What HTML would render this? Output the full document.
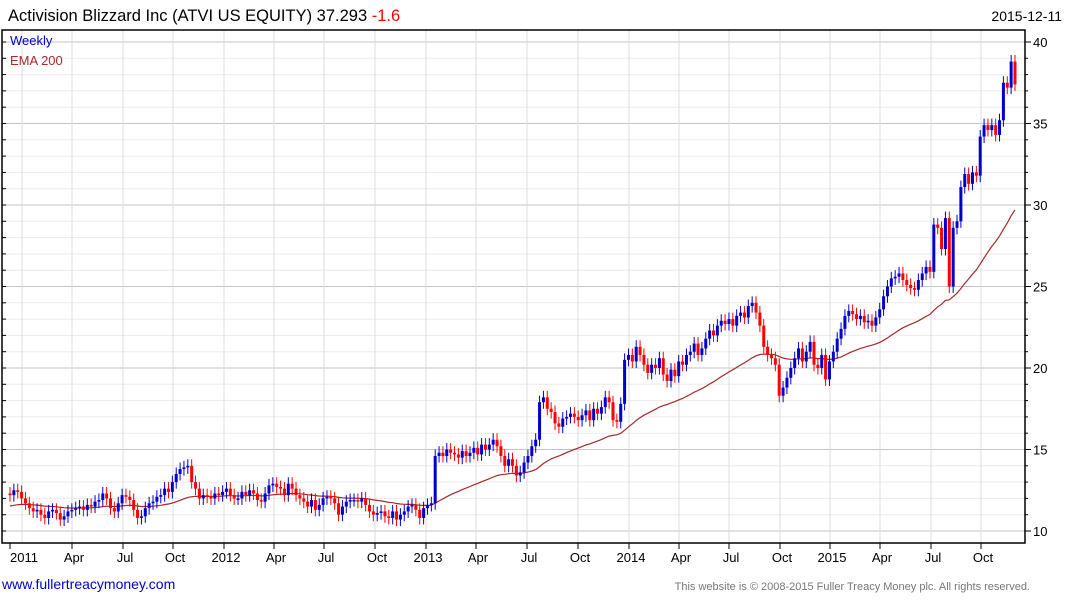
<!DOCTYPE html>
<html><head><meta charset="utf-8">
<style>
body{margin:0;background:#fff;width:1075px;height:600px;overflow:hidden;font-family:"Liberation Sans",sans-serif;}
svg{position:absolute;left:0;top:0}
</style></head>
<body>
<svg id="chart" width="1075" height="600">
<text x="8" y="21" font-size="16.5" fill="#000">Activision Blizzard Inc (ATVI US EQUITY) 37.293 <tspan fill="#ff0000">-1.6</tspan></text>
<text x="1062" y="21" font-size="14" text-anchor="end" fill="#000">2015-12-11</text>
<g id="grid"></g>
<g id="ema"></g>
<g id="candles"></g>
<g id="axes"></g>
<text x="10" y="45" font-size="13" fill="#0000cc">Weekly</text>
<text x="10" y="65" font-size="13" fill="#a52a2a">EMA 200</text>
<text x="2" y="589" font-size="14" fill="#0000cc">www.fullertreacymoney.com</text>
<text x="1030" y="590" font-size="11" text-anchor="end" fill="#777">This website is © 2008-2015 Fuller Treacy Money plc. All rights reserved.</text>
</svg>
<script>
const closes = [
12.2,12.5,12.4,12.0,11.7, 11.4,11.2,11.3,11.0, 10.8,11.2,11.3,11.1,10.7, 10.9,11.2,11.3,11.4, 11.5,11.3,11.6,11.5,11.8, 11.9,12.3,12.0,11.4,11.2, 11.7,12.2,12.1,11.9, 11.3,10.8,10.9,11.4,11.7, 11.8,12.1,12.2,12.6, 12.4,13.0,13.5,13.8,13.9, 14.0,13.0,12.6,12.0, 12.2,12.1,12.0,12.3,12.2,
12.4,12.6,12.2,12.0, 12.0,12.4,12.2,12.5, 12.3,11.9,11.8,12.3,12.8, 12.9,12.7,12.6,12.2, 12.9,12.6,12.2,12.0,11.8, 11.5,11.9,11.3,11.6, 12.0,12.1,12.0,11.7,11.0, 11.5,11.8,11.9,11.9, 11.8,12.0,11.6,11.2, 11.0,11.1,11.2,10.9,10.8, 11.2,10.7,11.0,11.2, 11.5,11.6,11.3,10.8,
11.4,11.6,11.7,14.6,14.8, 14.6,15.0,14.8,14.7, 14.5,14.9,14.6,14.8, 15.1,14.7,15.3,15.0,15.3, 15.6,15.2,14.6,14.0,14.4, 14.0,13.4,13.6,14.2, 14.6,15.2,15.6,17.9,18.2, 17.5,17.3,16.6,16.4,16.9, 17.0,17.2,17.0,16.8, 17.1,17.4,16.8,17.5,17.2, 17.6,18.2,17.9, 16.8,16.7,17.8,
20.5,20.8,20.4,21.3, 20.8,20.2,19.7,20.2, 20.0,20.6,19.6,19.2,19.9, 19.5,20.4,20.2,20.8, 21.0,21.5,20.8,21.2,21.8, 22.3,22.0,22.6,22.9, 22.7,23.0,22.6,23.2,23.4, 23.1,23.8,24.0,23.4, 22.6,21.3,20.8,20.6, 20.2,18.3,18.8,19.4,20.0, 20.6,21.2,20.4,21.0, 21.6,20.2,20.0,20.8,
19.3,20.4,21.0,21.8, 22.4,23.2,23.5,23.3, 23.0,23.2,22.8,22.9,22.6, 23.1,23.6,24.4,25.0, 25.5,25.6,25.8,25.4,25.1, 24.9,24.8,25.4,25.8, 26.2,25.9,28.8,28.6,27.3, 29.2,25.0,28.6,29.0, 31.1,31.9,31.3,32.0,31.8, 34.2,34.9,34.6,34.9,34.3, 35.2,37.5,37.2,38.8, 37.4
];
const yTicks = [10,15,20,25,30,35,40];
const xLabels = ["2011","Apr","Jul","Oct","2012","Apr","Jul","Oct","2013","Apr","Jul","Oct","2014","Apr","Jul","Oct","2015","Apr","Jul","Oct"];
const xLabelPos = [22,72,123,173,224,274,324,375,426,476,527,578,629,679,729,780,830,880,931,981];
const firstOpen = 12.3;

const NS="http://www.w3.org/2000/svg";
const L=2,R=1025,T=30,B=543;
function y(v){return 531-(v-10)*16.3;}
function x(i){return 10+i*(1015-10)/(closes.length-1);}
function mk(tag,attrs,parent){const e=document.createElementNS(NS,tag);for(const k in attrs)e.setAttribute(k,attrs[k]);parent.appendChild(e);return e;}
const grid=document.getElementById('grid'),axes=document.getElementById('axes'),cg=document.getElementById('candles'),eg=document.getElementById('ema');
for(let v=10;v<=40;v++){
  const ln=mk('line',{x1:L,x2:R,y1:y(v),y2:y(v),stroke:v%5===0?'#c4c4c4':'#ebebeb','stroke-width':1},grid);
  
  
  const tk=mk('line',{x1:R,x2:R+(v%5===0?6:3),y1:y(v),y2:y(v),stroke:'#000'},axes);
  
  
  const lt=mk('line',{x1:L,x2:L+4,y1:y(v),y2:y(v),stroke:'#000'},axes);
  
  
}
yTicks.forEach(v=>{
  const t=mk('text',{x:1033,y:y(v)+5,'font-size':13,fill:'#000'},axes);
  t.textContent=v;
  
  
});
xLabels.forEach((s,k)=>{
  const px=xLabelPos[k];
  const g=mk('line',{x1:px,x2:px,y1:T,y2:B,stroke:'#dcdcdc'},grid);
  
  
  const tk=mk('line',{x1:k===0?10:px,x2:k===0?10:px,y1:B,y2:B+6,stroke:'#000'},axes);
  
  
  const t=mk('text',{x:px+2,y:562,'font-size':13,'text-anchor':'middle',fill:'#000'},axes);
  t.textContent=s;
  
  
});
const frame=mk('path',{d:`M${L} ${T}H${R}V${B}H${L}Z`,fill:'none',stroke:'#000','stroke-width':1.5},axes);


// EMA
let ema=11.5,pts=[];const a=2/45;
closes.forEach((c,i)=>{ema=ema+a*(c-ema);pts.push(x(i).toFixed(1)+','+y(ema).toFixed(1));});
const pl=mk('polyline',{points:pts.join(' '),fill:'none',stroke:'#a52a2a','stroke-width':1.2},eg);


// candles
closes.forEach((c,i)=>{
  const o=i===0?firstOpen:closes[i-1];
  const up=c>=o,col=up?'#0000cc':'#ff0000';
  const hi=Math.max(o,c)+0.4,lo=Math.min(o,c)-0.4;
  const cx=x(i);
  const w=mk('line',{x1:cx,x2:cx,y1:y(hi),y2:y(lo),stroke:col,'stroke-width':1},cg);
  
  
  const top=y(Math.max(o,c)),h=Math.max(1.5,y(Math.min(o,c))-top);
  const r=mk('rect',{x:cx-1.5,y:top,width:3,height:h,fill:col},cg);
  
  
});
</script>
</body></html>
